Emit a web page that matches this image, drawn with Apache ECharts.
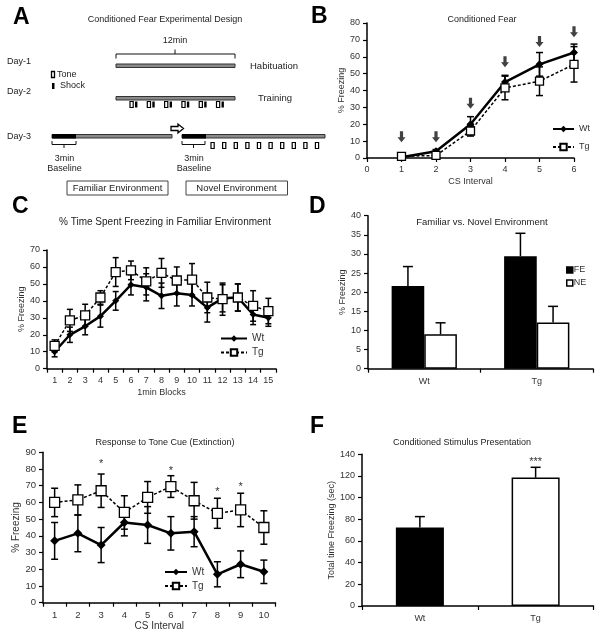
<!DOCTYPE html>
<html><head><meta charset="utf-8">
<script src="https://cdn.jsdelivr.net/npm/echarts@6/dist/echarts.min.js"></script>
<style>html,body{margin:0;padding:0;background:#fff}#c{width:601px;height:633px}</style>
</head><body><div id="c"></div>
<script>
// ---------- Panel B: Conditioned Fear ----------
const bX = [1, 2, 3, 4, 5, 6];
const bWt = [0.5, 4, 20, 45, 55.5, 62.5];
const bWtErr = [1, 1, 4.5, 4, 7, 5];
const bTg = [1, 1.5, 16, 41.5, 45.5, 55.5];
const bTgErr = [1, 1, 3, 7, 8.5, 10.5];
const bArrowY = [12.6, 12.6, 32.4, 57, 69, 74.8];
// ---------- Panel C: Familiar environment ----------
const cCats = ['1','2','3','4','5','6','7','8','9','10','11','12','13','14','15'];
const cWt = [10, 20, 25, 31, 40, 49.5, 48, 43, 44.5, 43.5, 36, 41.5, 42, 32, 30];
const cWtErr = [3, 4.5, 5, 6.5, 5.5, 6, 8, 7.5, 7.5, 6.5, 8.5, 8, 8, 6, 5];
const cTg = [13.5, 28.5, 31.5, 42, 57, 58, 51.5, 56.5, 52, 52.5, 42, 41, 42, 37, 34];
const cTgErr = [3.5, 6.5, 6.5, 4, 8.5, 5.5, 8, 8.5, 8, 9.5, 9, 9.5, 8, 9, 7.5];
// ---------- Panel D: Familiar vs Novel ----------
const dCats = ['Wt', 'Tg'];
const dFE = [21.6, 29.4];
const dFEErr = [5.1, 6];
const dNE = [9, 12.1];
const dNEErr = [3, 4.2];
// ---------- Panel E: Extinction ----------
const eCats = ['1','2','3','4','5','6','7','8','9','10'];
const eWt = [37, 41.5, 34.5, 48, 46.5, 41.5, 42.5, 17, 23, 18.5];
const eWtErr = [11, 11, 10.5, 8, 11, 10, 9, 7.5, 8, 7];
const eTg = [60, 61.5, 67, 54, 63, 69.5, 61, 53.5, 55.5, 45];
const eTgErr = [8.5, 9, 10, 10, 9.5, 6.5, 11, 9, 10, 10];
const eStarCats = ['3', '6', '8', '9'];
const eStarY = [83, 79, 66, 69];
// ---------- Panel F: CS presentation ----------
const fCats = ['Wt', 'Tg'];
const fVals = [72.5, 118.5];
const fErr = [10, 9.5];
const fStarY = [133];

const FONT = '"Liberation Sans", Arial, sans-serif';
const TXT = '#333';

function ax(extra) {
  return Object.assign({
    axisLine: { show: true, onZero: false, lineStyle: { color: '#000', width: 1.5 } },
    axisTick: { show: true, length: 4, lineStyle: { color: '#000', width: 1.2 } },
    axisLabel: { color: TXT, fontSize: 9, fontFamily: FONT, margin: 7 },
    splitLine: { show: false },
    nameLocation: 'middle',
    nameTextStyle: { color: TXT, fontSize: 9, fontFamily: FONT }
  }, extra);
}

function errSeries(gi, data, o) {
  return {
    type: 'custom', xAxisIndex: gi, yAxisIndex: gi, z: 3, silent: true, data: data,
    renderItem: function (params, api) {
      const x = api.value(0), y = api.value(1), e = api.value(2);
      const off = (o.offset || 0) * (o.band ? api.size([1, 0])[0] : 0);
      const pT = api.coord([x, y + e]);
      const pB = api.coord([x, o.up ? y : y - e]);
      const cx = pT[0] + off, w = o.cap / 2;
      const st = { stroke: '#000', lineWidth: o.lw || 1.5 };
      const ch = [
        { type: 'line', shape: { x1: cx, y1: pB[1], x2: cx, y2: pT[1] }, style: st },
        { type: 'line', shape: { x1: cx - w, y1: pT[1], x2: cx + w, y2: pT[1] }, style: st }
      ];
      if (!o.up) ch.push({ type: 'line', shape: { x1: cx - w, y1: pB[1], x2: cx + w, y2: pB[1] }, style: st });
      return { type: 'group', children: ch };
    }
  };
}
function starSeries(gi, data, txt) {
  return {
    type: 'custom', xAxisIndex: gi, yAxisIndex: gi, z: 5, silent: true, data: data,
    renderItem: function (params, api) {
      const p = api.coord([api.value(0), api.value(1)]);
      return { type: 'text', x: p[0], y: p[1], style: { text: txt, fill: '#333', font: '11px ' + FONT, align: 'center', verticalAlign: 'middle' } };
    }
  };
}
const wtLine = (gi, data, sz) => ({
  name: 'Wt', type: 'line', xAxisIndex: gi, yAxisIndex: gi, data: data, z: 4,
  symbol: 'diamond', symbolSize: sz, showSymbol: true,
  lineStyle: { color: '#000', width: 2.5 }, itemStyle: { color: '#000' }
});
const tgLine = (gi, data, sz) => ({
  name: 'Tg', type: 'line', xAxisIndex: gi, yAxisIndex: gi, data: data, z: 4,
  symbol: 'rect', symbolSize: sz, showSymbol: true,
  lineStyle: { color: '#000', width: 1.5, type: [3, 2] },
  itemStyle: { color: '#fff', borderColor: '#000', borderWidth: 1.3 }
});
const pair = (xs, ys) => xs.map((x, i) => [x, ys[i]]);
const trip = (xs, ys, es) => xs.map((x, i) => [x, ys[i], es[i]]);

// ---------- Panel A schematic (graphic) ----------
const G = [];
const T = (x, y, text, o) => { o = o || {}; G.push({ type: 'text', x: x, y: y, silent: true, style: { text: text, fill: o.fill || '#222', font: (o.weight || 'normal') + ' ' + (o.size || 9) + 'px ' + FONT, align: o.align || 'left', verticalAlign: 'middle' } }); };
const R = (x, y, w, h, fill, stroke, lw) => G.push({ type: 'rect', silent: true, shape: { x: x, y: y, width: w, height: h }, style: { fill: fill, stroke: stroke || null, lineWidth: lw || 1 } });
const L = (pts, lw) => G.push({ type: 'polyline', silent: true, shape: { points: pts }, style: { stroke: '#111', fill: null, lineWidth: lw || 1 } });

T(165, 20, 'Conditioned Fear Experimental Design', { align: 'center' });
T(175, 41, '12min', { align: 'center' });
L([[116, 58.5], [116, 54], [235, 54], [235, 58.5]]); L([[175, 54], [175, 49.5]]);
T(7, 62, 'Day-1');
R(116, 64, 119, 3.5, '#8a8a8a', '#333', 1);
T(250, 66, 'Habituation', { size: 9.5 });
R(51.5, 71.5, 3, 6, '#fff', '#000', 1.3); T(57, 74.5, 'Tone');
R(52, 83, 2.5, 6, '#000'); T(60, 86, 'Shock');
T(7, 92, 'Day-2');
R(116, 96.5, 119, 3.5, '#8a8a8a', '#333', 1);
T(258, 98, 'Training', { size: 9.5 });
for (let i = 0; i < 6; i++) {
  const x0 = 130 + i * 17.3;
  R(x0, 101.5, 3.2, 6, '#fff', '#000', 1.2);
  R(x0 + 5, 101.5, 2.4, 6, '#000');
}
G.push({ type: 'polygon', silent: true, shape: { points: [[171, 126.5], [178, 126.5], [178, 124], [183.5, 128.5], [178, 133], [178, 130.5], [171, 130.5]] }, style: { fill: '#fff', stroke: '#000', lineWidth: 1.3 } });
T(7, 137, 'Day-3');
R(52, 134.5, 120, 3.5, '#8a8a8a', '#333', 1); R(52, 134, 24, 4.5, '#000');
R(182, 134.5, 143, 3.5, '#8a8a8a', '#333', 1); R(182, 134, 24, 4.5, '#000');
for (let i = 0; i < 10; i++) R(211 + i * 11.6, 142.5, 3.2, 6, '#fff', '#000', 1.2);
L([[52, 141], [52, 144.5], [76, 144.5], [76, 141]]); L([[64, 144.5], [64, 148]]);
L([[182, 141], [182, 144.5], [205, 144.5], [205, 141]]); L([[193.5, 144.5], [193.5, 148]]);
T(64.5, 158.5, '3min', { align: 'center' }); T(64.5, 168.5, 'Baseline', { align: 'center' });
T(194, 158.5, '3min', { align: 'center' }); T(194, 168.5, 'Baseline', { align: 'center' });
R(67, 181, 101, 14, null, '#444', 1); T(117.5, 188, 'Familiar Environment', { align: 'center', size: 9.5 });
R(186, 181, 101.5, 14, null, '#444', 1); T(236.5, 188, 'Novel Environment', { align: 'center', size: 9.5 });

// titles & panel letters
T(482, 20, 'Conditioned Fear', { align: 'center' });
T(165, 222, '% Time Spent Freezing in Familiar Environment', { align: 'center', size: 10 });
T(482, 222, 'Familiar vs. Novel Environment', { align: 'center', size: 9.5 });
T(165, 443, 'Response to Tone Cue (Extinction)', { align: 'center' });
T(462, 443, 'Conditioned Stimulus Presentation', { align: 'center' });
[['A', 13, 18], ['B', 311, 17], ['C', 12, 207], ['D', 309, 207], ['E', 12, 427], ['F', 310, 427]].forEach(a => T(a[1], a[2], a[0], { weight: 'bold', size: 23, fill: '#000' }));

const arrowPath = 'path://M3,0 L7,0 L7,6 L10,6 L5,11 L0,6 L3,6 Z';

const option = {
  animation: false,
  backgroundColor: '#fff',
  textStyle: { fontFamily: FONT },
  grid: [
    { left: 367, top: 23, width: 207, height: 135 },
    { left: 47, top: 250, width: 229, height: 118.7 },
    { left: 368, top: 215.7, width: 225, height: 153 },
    { left: 43, top: 452.3, width: 232.5, height: 150.4 },
    { left: 362, top: 454.3, width: 231.5, height: 151.7 }
  ],
  xAxis: [
    ax({ gridIndex: 0, type: 'value', min: 0, max: 6, interval: 1, name: 'CS Interval', nameGap: 19 }),
    ax({ gridIndex: 1, type: 'category', data: cCats, name: '1min Blocks', nameGap: 19 }),
    ax({ gridIndex: 2, type: 'category', data: dCats, axisLabel: { color: TXT, fontSize: 9, fontFamily: FONT, margin: 8 } }),
    ax({ gridIndex: 3, type: 'category', data: eCats, name: 'CS Interval', nameGap: 14, nameTextStyle: { color: TXT, fontSize: 10, fontFamily: FONT }, axisLabel: { color: TXT, fontSize: 9.5, fontFamily: FONT, margin: 8 } }),
    ax({ gridIndex: 4, type: 'category', data: fCats, axisLabel: { color: TXT, fontSize: 9, fontFamily: FONT, margin: 8 } })
  ],
  yAxis: [
    ax({ gridIndex: 0, type: 'value', min: 0, max: 80, interval: 10, name: '% Freezing', nameGap: 20 }),
    ax({ gridIndex: 1, type: 'value', min: 0, max: 70, interval: 10, name: '% Freezing', nameGap: 20 }),
    ax({ gridIndex: 2, type: 'value', min: 0, max: 40, interval: 5, name: '% Freezing', nameGap: 20 }),
    ax({ gridIndex: 3, type: 'value', min: 0, max: 90, interval: 10, name: '% Freezing', nameGap: 16, nameTextStyle: { color: TXT, fontSize: 10, fontFamily: FONT }, axisLabel: { color: TXT, fontSize: 9.5, fontFamily: FONT, margin: 7 } }),
    ax({ gridIndex: 4, type: 'value', min: 0, max: 140, interval: 20, name: 'Total time Freezing (sec)', nameGap: 22 })
  ],
  legend: [
    { data: ['Wt', 'Tg'], orient: 'vertical', left: 552, top: 124.5, itemWidth: 21, itemHeight: 8, itemGap: 9, padding: 0, textStyle: { fontSize: 9, color: TXT, fontFamily: FONT }, selectedMode: false },
    { data: ['Wt', 'Tg'], orient: 'vertical', left: 220, top: 333.5, itemWidth: 26, itemHeight: 8, itemGap: 4, padding: 0, textStyle: { fontSize: 10, color: TXT, fontFamily: FONT }, selectedMode: false },
    { data: [{ name: 'FE', icon: 'rect' }, { name: 'NE', icon: 'rect' }], orient: 'vertical', left: 566, top: 265.5, itemWidth: 6, itemHeight: 6, itemGap: 4, padding: 0, itemStyle: { borderWidth: 1.5 }, textStyle: { fontSize: 9, color: TXT, fontFamily: FONT, padding: [0, 0, 0, -4] }, selectedMode: false },
    { data: ['Wt', 'Tg'], orient: 'vertical', left: 164, top: 567, itemWidth: 22, itemHeight: 8, itemGap: 4, padding: 0, textStyle: { fontSize: 10, color: TXT, fontFamily: FONT }, selectedMode: false }
  ],
  graphic: G,
  series: [
    // B
    errSeries(0, trip(bX, bWt, bWtErr), { cap: 7 }),
    errSeries(0, trip(bX, bTg, bTgErr), { cap: 7 }),
    wtLine(0, pair(bX, bWt), 8),
    tgLine(0, pair(bX, bTg), 8),
    { type: 'scatter', xAxisIndex: 0, yAxisIndex: 0, silent: true, symbol: arrowPath, symbolSize: [8, 11], itemStyle: { color: '#111' }, data: pair(bX, bArrowY), z: 5 },
    // C
    errSeries(1, trip(cCats, cWt, cWtErr), { cap: 6 }),
    errSeries(1, trip(cCats, cTg, cTgErr), { cap: 6 }),
    wtLine(1, pair(cCats, cWt), 7),
    tgLine(1, pair(cCats, cTg), 9),
    // D
    { name: 'FE', type: 'bar', xAxisIndex: 2, yAxisIndex: 2, data: dFE, barWidth: '29%', barGap: '0%', itemStyle: { color: '#000', borderColor: '#000', borderWidth: 1.5 }, z: 2 },
    { name: 'NE', type: 'bar', xAxisIndex: 2, yAxisIndex: 2, data: dNE, barWidth: '29%', barGap: '0%', itemStyle: { color: '#fff', borderColor: '#000', borderWidth: 1.5 }, z: 2 },
    errSeries(2, trip(dCats, dFE, dFEErr), { cap: 10, up: true, band: true, offset: -0.145 }),
    errSeries(2, trip(dCats, dNE, dNEErr), { cap: 10, up: true, band: true, offset: 0.145 }),
    // E
    errSeries(3, trip(eCats, eWt, eWtErr), { cap: 7 }),
    errSeries(3, trip(eCats, eTg, eTgErr), { cap: 7 }),
    wtLine(3, pair(eCats, eWt), 9),
    tgLine(3, pair(eCats, eTg), 10),
    starSeries(3, pair(eStarCats, eStarY), '*'),
    // F
    { type: 'bar', xAxisIndex: 4, yAxisIndex: 4, barWidth: '41.5%', z: 2,
      data: fVals.map((v, i) => ({ value: v, itemStyle: { color: i === 0 ? '#000' : '#fff', borderColor: '#000', borderWidth: 1.5 } })) },
    errSeries(4, trip(fCats, fVals, fErr), { cap: 10, up: true, band: true, offset: 0 }),
    starSeries(4, pair(['Tg'], fStarY), '***')
  ]
};
const chart = echarts.init(document.getElementById('c'), null, { renderer: 'canvas' });
chart.setOption(option);
</script></body></html>
